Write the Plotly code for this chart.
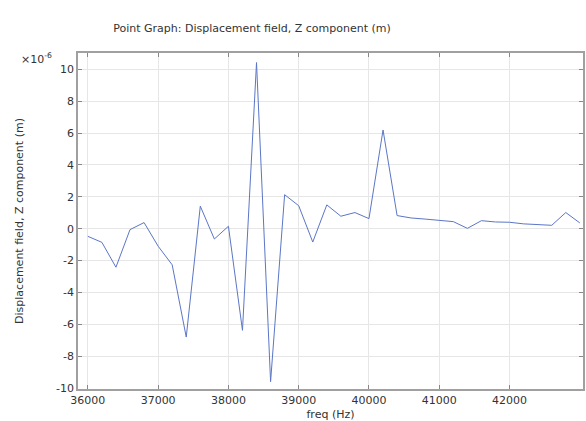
import plotly.graph_objects as go

# frequency (Hz)
freq = [36000, 36200, 36400, 36600, 36800, 37000, 37200, 37400, 37600, 37800,
        38000, 38200, 38400, 38600, 38800, 39000, 39200, 39400, 39600, 39800,
        40000, 40200, 40400, 40600, 40800, 41000, 41200, 41400, 41600, 41800,
        42000, 42200, 42400, 42600, 42800, 43000]
# displacement field, Z component (units of 1e-6 m)
disp_z = [-0.48, -0.86, -2.42, -0.06, 0.38, -1.10, -2.27, -6.80, 1.41, -0.65,
          0.15, -6.38, 10.42, -9.60, 2.13, 1.44, -0.84, 1.49, 0.78, 1.01,
          0.63, 6.19, 0.82, 0.67, 0.60, 0.53, 0.44, 0.02, 0.50, 0.42,
          0.40, 0.30, 0.27, 0.21, 1.01, 0.36]

x_ticks = [36000, 37000, 38000, 39000, 40000, 41000, 42000]
x_ticktext = ["36000", "37000", "38000", "39000", "40000", "41000", "42000"]
y_ticks = [-10, -8, -6, -4, -2, 0, 2, 4, 6, 8, 10]
y_ticktext = ["-10", "-8", "-6", "-4", "-2", "0", "2", "4", "6", "8", "10"]

FONT = "DejaVu Sans"
TXT = "#333333"

fig = go.Figure()
fig.add_trace(go.Scatter(
    x=freq, y=disp_z, mode="lines",
    line=dict(color="#5b76c6", width=1),
    showlegend=False, hoverinfo="x+y"))

fig.update_layout(
    width=586, height=421,
    margin=dict(l=78, r=1, t=53, b=31),
    paper_bgcolor="white", plot_bgcolor="white",
    font=dict(family=FONT, size=11, color=TXT),
    title=dict(text="Point Graph: Displacement field, Z component (m)",
               x=252/586, xanchor="center", xref="container",
               y=1 - 28/421, yanchor="middle", yref="container",
               font=dict(family=FONT, size=11, color=TXT)),
    xaxis=dict(range=[35860, 43045], tickvals=x_ticks, ticktext=x_ticktext,
               showgrid=True, gridcolor="#e6e6e6", gridwidth=1,
               showline=True, linecolor="#a0a0a0", linewidth=1.5, mirror="allticks",
               ticks="inside", ticklen=4, tickcolor="#888888",
               zeroline=False, tickfont=dict(size=11, color=TXT),
               title=dict(text="freq (Hz)", standoff=5,
                          font=dict(size=11, color=TXT))),
    yaxis=dict(range=[-10.06, 11.02], tickvals=y_ticks, ticktext=y_ticktext,
               showgrid=True, gridcolor="#e6e6e6", gridwidth=1,
               showline=True, linecolor="#a0a0a0", linewidth=1.5, mirror="allticks",
               ticks="inside", ticklen=4, tickcolor="#888888",
               zeroline=False, tickfont=dict(size=11, color=TXT),
               title=dict(text="Displacement field, Z component (m)", standoff=30,
                          font=dict(size=11, color=TXT))),
)

fig.add_annotation(text="×10<sup>-6</sup>", xref="paper", yref="paper",
                   x=0, y=1, xanchor="right", yanchor="middle",
                   xshift=-24, yshift=-5, showarrow=False,
                   font=dict(family=FONT, size=11, color=TXT))

fig.write_html("out.html")
